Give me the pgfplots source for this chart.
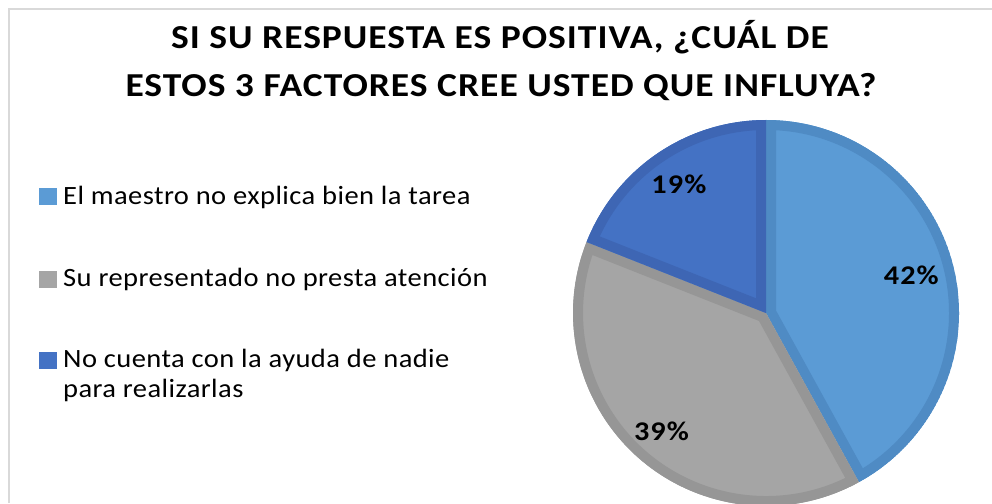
\documentclass[border=0pt]{standalone}
\usepackage{pgfplots}
\pgfplotsset{compat=1.18}
\usepackage{pgfplotstable}
\usepackage{fontspec}
\setmainfont{Carlito}
\newfontfamily\titlefont[FakeStretch=1.12, LetterSpace=3]{Carlito}
\newfontfamily\legfont[FakeStretch=1.08, LetterSpace=1.6]{Carlito}
\newfontfamily\labfont[FakeStretch=1.12, LetterSpace=4]{Carlito}

\definecolor{sliceA}{HTML}{5B9BD5}
\definecolor{sliceAb}{HTML}{4F8BC4}
\definecolor{sliceB}{HTML}{A5A5A5}
\definecolor{sliceBb}{HTML}{969696}
\definecolor{sliceC}{HTML}{4472C4}
\definecolor{sliceCb}{HTML}{3E66B4}
\definecolor{framegray}{HTML}{D9D9D9}

% share of answers, in %
\pgfplotstableread{
idx value
0 42
1 39
2 19
}\piedata

% one slice: start angle, end angle, fill, border
\newcommand\pieslice[4]{%
  \begin{scope}
    \clip (axis cs:766,190) -- ++(#1:193pt) arc[start angle=#1,end angle=#2,radius=193pt] -- cycle;
    \filldraw[fill=#3,draw=#4,line width=20pt] (axis cs:766,190) -- ++(#1:193pt)
      arc[start angle=#1,end angle=#2,radius=193pt] -- cycle;
  \end{scope}}

\begin{document}
\begin{tikzpicture}
\pgfplotstablegetelem{0}{value}\of\piedata \global\let\vA\pgfplotsretval
\pgfplotstablegetelem{1}{value}\of\piedata \global\let\vB\pgfplotsretval
\pgfplotstablegetelem{2}{value}\of\piedata \global\let\vC\pgfplotsretval
\pgfmathsetmacro\aA{90}
\pgfmathsetmacro\aB{\aA-3.6*\vA}
\pgfmathsetmacro\aC{\aB-3.6*\vB}
\pgfmathsetmacro\aD{\aC-3.6*\vC}
\pgfmathsetmacro\mA{(\aA+\aB)/2}
\pgfmathsetmacro\mB{(\aB+\aC)/2}
\pgfmathsetmacro\mC{(\aC+\aD)/2}
\begin{axis}[
    width=992pt, height=503pt,
    scale only axis,
    hide axis,
    xmin=0, xmax=992,
    ymin=0, ymax=503,
]
\path (axis cs:0,0) rectangle (axis cs:992,503);
% chart frame
\draw[framegray, line width=1.5pt] (axis cs:9,0) -- (axis cs:9,494) -- (axis cs:992,494);

% title
\node[anchor=base, font={\fontsize{33.5}{38}\titlefont\bfseries}] at (axis cs:500,454) {SI SU RESPUESTA ES POSITIVA, ¿CUÁL DE};
\node[anchor=base, font={\fontsize{33.5}{38}\titlefont\bfseries}] at (axis cs:501,406) {ESTOS 3 FACTORES CREE USTED QUE INFLUYA?};

% slices
\pieslice{\aA}{\aB}{sliceA}{sliceAb}
\pieslice{\aB}{\aC}{sliceB}{sliceBb}
\pieslice{\aC}{\aD}{sliceC}{sliceCb}

% data labels
\path (axis cs:766,190) ++(\mA:150pt) node[font={\fontsize{27}{32}\labfont\bfseries}] {\vA\%};
\path (axis cs:766,190) ++(\mB:158pt) node[font={\fontsize{27}{32}\labfont\bfseries}] {\vB\%};
\path (axis cs:766,190) ++(\mC:155pt) node[font={\fontsize{27}{32}\labfont\bfseries}] {\vC\%};

% legend
\fill[sliceA] (axis cs:39,298) rectangle (axis cs:57,315);
\fill[sliceB] (axis cs:39,215) rectangle (axis cs:57,232);
\fill[sliceC] (axis cs:39,134) rectangle (axis cs:57,151);
\node[anchor=base west, inner sep=0pt, font={\fontsize{26.4}{30}\legfont}] at (axis cs:63,298) {El maestro no explica bien la tarea};
\node[anchor=base west, inner sep=0pt, font={\fontsize{26.4}{30}\legfont}] at (axis cs:63,216) {Su representado no presta atención};
\node[anchor=base west, inner sep=0pt, font={\fontsize{26.4}{30}\legfont}] at (axis cs:63,135) {No cuenta con la ayuda de nadie};
\node[anchor=base west, inner sep=0pt, font={\fontsize{26.4}{30}\legfont}] at (axis cs:63,105) {para realizarlas};
\end{axis}
\end{tikzpicture}
\end{document}
